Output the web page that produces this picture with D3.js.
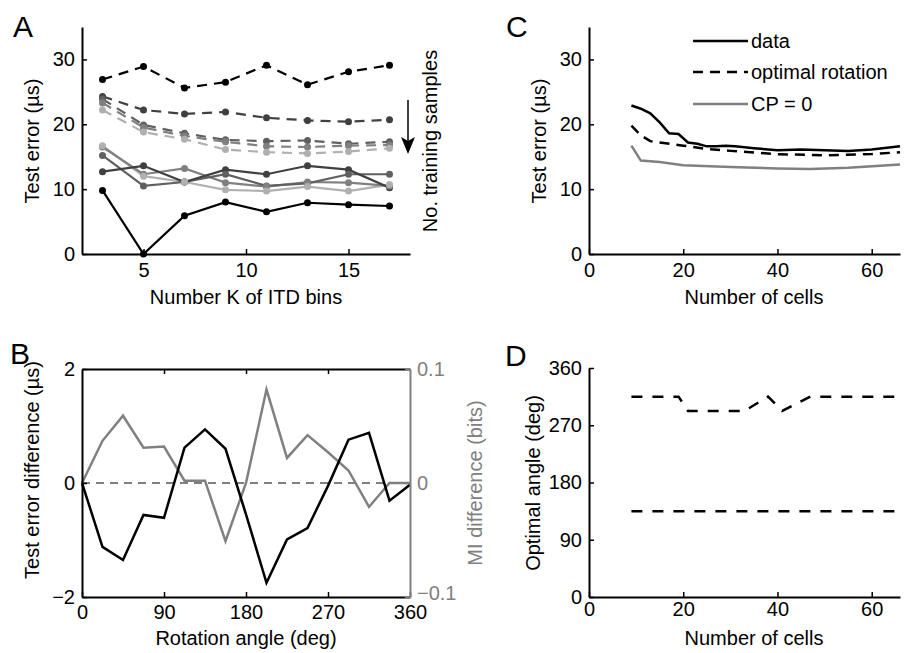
<!DOCTYPE html>
<html>
<head>
<meta charset="utf-8">
<script src="https://cdn.jsdelivr.net/npm/d3@7"></script>
<style>
  body { margin: 0; background: #fff; }
  svg text { font-family: 'Liberation Sans', Arial, Helvetica, sans-serif; }
</style>
</head>
<body>
<div id="fig"></div>
<script>
// ---- data ----
// panel A: number of ITD bins
const binsK = [3, 5, 7, 9, 11, 13, 15, 17];
const shadesA = ["#000000", "#404040", "#606060", "#808080", "#b0b0b0"];
const dashedA = [
  [26.9, 28.9, 25.6, 26.5, 29.1, 26.1, 28.1, 29.1],
  [24.3, 22.2, 21.6, 21.9, 21.0, 20.6, 20.4, 20.7],
  [23.9, 19.9, 18.6, 17.6, 17.4, 17.5, 17.0, 17.3],
  [23.3, 19.5, 18.2, 17.3, 16.6, 16.5, 16.7, 16.8],
  [22.2, 18.8, 17.7, 16.1, 15.7, 15.5, 15.8, 16.3]
];
const solidA = [
  [9.8, 0.0, 5.9, 8.0, 6.5, 7.9, 7.6, 7.4],
  [12.7, 13.6, 11.1, 13.0, 12.3, 13.6, 13.0, 10.2],
  [15.2, 10.5, 11.1, 12.3, 10.5, 10.9, 12.3, 12.3],
  [16.5, 12.3, 13.2, 11.0, 10.4, 11.1, 11.0, 10.5],
  [16.7, 12.0, 11.1, 9.9, 9.7, 10.4, 9.7, 10.7]
];

// panel B: rotation angle
const angles = [0, 22.5, 45, 67.5, 90, 112.5, 135, 157.5, 180, 202.5, 225, 247.5, 270, 292.5, 315, 337.5, 360];
const errDiff = [0, -1.12, -1.35, -0.56, -0.61, 0.62, 0.94, 0.6, -0.55, -1.75, -0.99, -0.79, -0.05, 0.76, 0.88, -0.31, -0.03];
const miDiff = [0, 0.037, 0.059, 0.031, 0.032, 0.002, 0.002, -0.051, 0.0, 0.082, 0.022, 0.042, 0.027, 0.011, -0.021, 0.0, 0.0];

// panel C: number of cells
const cellsData = [9, 11, 13, 15, 17, 19, 21, 23, 25, 27, 29, 31, 35, 40, 45, 50, 55, 60, 66];
const errData = [22.9, 22.4, 21.7, 20.3, 18.6, 18.5, 17.2, 17.0, 16.6, 16.6, 16.7, 16.6, 16.3, 16.0, 16.1, 16.0, 15.9, 16.1, 16.6];
const cellsRot = [9, 11, 13, 15, 20, 25, 30, 40, 50, 60, 66];
const errRot = [19.8, 18.3, 17.4, 17.2, 16.7, 16.2, 15.9, 15.4, 15.2, 15.4, 15.7];
const cellsCP = [9, 11, 15, 20, 30, 40, 47, 55, 66];
const errCP = [16.7, 14.4, 14.2, 13.7, 13.4, 13.2, 13.1, 13.3, 13.8];
const legendC = ["data", "optimal rotation", "CP = 0"];

// panel D: optimal angle
const cellsOptHi = [9, 19, 21, 33, 38, 41, 47, 66];
const angleOptHi = [315, 315, 292.5, 292.5, 315, 292.5, 315, 315];
const cellsOptLo = [9, 66];
const angleOptLo = [135, 135];

// ---- drawing ----
const svg = d3.select("#fig").append("svg")
  .attr("width", 910)
  .attr("height", 653);

const FS = 20;
const gray = "#808080";

function styleAxis(g, color) {
  g.select(".domain").attr("stroke", color || "#000").attr("stroke-width", 2);
  g.selectAll(".tick line").attr("stroke", color || "#000").attr("stroke-width", 1.5);
  g.selectAll(".tick text").attr("font-size", FS).attr("fill", color || "#000")
    .style("font-family", "'Liberation Sans', Arial, sans-serif");
}

function panelLetter(txt, x, y) {
  svg.append("text").attr("x", x).attr("y", y).attr("font-size", 30).text(txt);
}

function ylabel(txt, x, y, color) {
  svg.append("text")
    .attr("transform", `translate(${x},${y}) rotate(-90)`)
    .attr("text-anchor", "middle")
    .attr("font-size", FS)
    .attr("fill", color || "#000")
    .text(txt);
}

function xlabel(txt, x, y) {
  svg.append("text").attr("x", x).attr("y", y)
    .attr("text-anchor", "middle").attr("font-size", FS).text(txt);
}

// ===== Panel A =====
const xA = d3.scaleLinear().domain([2, 18]).range([82, 410]);
const yA = d3.scaleLinear().domain([0, 35]).range([254, 27]);
const lineA = d3.line().x((d, i) => xA(binsK[i])).y(d => yA(d));

const gA = svg.append("g");
dashedA.forEach((s, k) => {
  gA.append("path").datum(s).attr("d", lineA)
    .attr("fill", "none").attr("stroke", shadesA[k]).attr("stroke-width", 2.2)
    .attr("stroke-dasharray", "10,7");
});
solidA.slice().reverse().forEach((s, j) => {
  const k = solidA.length - 1 - j;
  gA.append("path").datum(s).attr("d", lineA)
    .attr("fill", "none").attr("stroke", shadesA[k]).attr("stroke-width", 2.2);
});
[...dashedA, ...solidA].forEach((s, n) => {
  gA.selectAll(null).data(s).enter().append("circle")
    .attr("cx", (d, i) => xA(binsK[i]))
    .attr("cy", d => yA(d))
    .attr("r", 3.5)
    .attr("fill", shadesA[n % 5]);
});

svg.append("g").attr("transform", "translate(0,254)")
  .call(d3.axisBottom(xA).tickValues([5, 10, 15]).tickSizeInner(-5).tickSizeOuter(0).tickPadding(9))
  .call(g => styleAxis(g));
svg.append("g").attr("transform", "translate(82,0)")
  .call(d3.axisLeft(yA).tickValues([0, 10, 20, 30]).tickSizeInner(-5).tickSizeOuter(0).tickPadding(7))
  .call(g => styleAxis(g));

// arrow for number of training samples
svg.append("line").attr("x1", 408).attr("x2", 408).attr("y1", 100).attr("y2", 145)
  .attr("stroke", "#000").attr("stroke-width", 1.5);
svg.append("path").attr("d", "M401,137 L408,154 L415,137 L408,141 Z").attr("fill", "#000");
ylabel("No. training samples", 437, 141);

panelLetter("A", 13, 37);
ylabel("Test error (\u00b5s)", 39, 141);
xlabel("Number K of ITD bins", 246, 304);

// ===== Panel B =====
const xB = d3.scaleLinear().domain([0, 360]).range([82, 410]);
const yB = d3.scaleLinear().domain([-2, 2]).range([597, 369]);
const yB2 = d3.scaleLinear().domain([-0.1, 0.1]).range([597, 369]);

svg.append("line").attr("x1", xB(0)).attr("x2", xB(360)).attr("y1", yB(0)).attr("y2", yB(0))
  .attr("stroke", "#000").attr("stroke-width", 1).attr("stroke-dasharray", "8,6");

svg.append("path").datum(miDiff)
  .attr("d", d3.line().x((d, i) => xB(angles[i])).y(d => yB2(d)))
  .attr("fill", "none").attr("stroke", gray).attr("stroke-width", 2.5);
svg.append("path").datum(errDiff)
  .attr("d", d3.line().x((d, i) => xB(angles[i])).y(d => yB(d)))
  .attr("fill", "none").attr("stroke", "#000").attr("stroke-width", 2.5);

svg.append("g").attr("transform", "translate(0,369)")
  .call(d3.axisTop(xB).tickValues([90, 180, 270]).tickFormat("").tickSizeInner(-5).tickSizeOuter(0))
  .call(g => styleAxis(g));
svg.append("g").attr("transform", "translate(0,597)")
  .call(d3.axisBottom(xB).tickValues([0, 90, 180, 270, 360]).tickSizeInner(-5).tickSizeOuter(0).tickPadding(8))
  .call(g => styleAxis(g));
svg.append("g").attr("transform", "translate(82,0)")
  .call(d3.axisLeft(yB).tickValues([-2, 0, 2]).tickFormat(d3.format("d")).tickSizeInner(-5).tickSizeOuter(0).tickPadding(7))
  .call(g => styleAxis(g));
svg.append("g").attr("transform", "translate(410,0)")
  .call(d3.axisRight(yB2).tickValues([-0.1, 0, 0.1]).tickFormat(d3.format(".1~f")).tickSizeInner(-5).tickSizeOuter(0).tickPadding(7))
  .call(g => styleAxis(g, gray))
  .call(g => g.selectAll(".tick text").filter(d => d < 0).attr("dy", "0.1em"));

panelLetter("B", 10, 364);
ylabel("Test error difference (\u00b5s)", 39, 470);
ylabel("MI difference (bits)", 482, 483, gray);
xlabel("Rotation angle (deg)", 246, 645);

// ===== Panel C =====
const xC = d3.scaleLinear().domain([0, 66]).range([589, 900]);
const yC = d3.scaleLinear().domain([0, 35]).range([254, 27]);

const seriesC = [
  {x: cellsData, y: errData, color: "#000", dash: null},
  {x: cellsRot, y: errRot, color: "#000", dash: "10,7"},
  {x: cellsCP, y: errCP, color: gray, dash: null}
];
seriesC.slice().reverse().forEach(s => {
  svg.append("path").datum(s.y)
    .attr("d", d3.line().x((d, i) => xC(s.x[i])).y(d => yC(d)))
    .attr("fill", "none").attr("stroke", s.color).attr("stroke-width", 2.5)
    .attr("stroke-dasharray", s.dash);
});

svg.append("g").attr("transform", "translate(0,254)")
  .call(d3.axisBottom(xC).tickValues([0, 20, 40, 60]).tickSizeInner(-5).tickSizeOuter(0).tickPadding(9))
  .call(g => styleAxis(g));
svg.append("g").attr("transform", "translate(589,0)")
  .call(d3.axisLeft(yC).tickValues([0, 10, 20, 30]).tickSizeInner(-5).tickSizeOuter(0).tickPadding(7))
  .call(g => styleAxis(g));

const legY = [41, 72, 104];
seriesC.forEach((s, i) => {
  svg.append("line").attr("x1", 693).attr("x2", 748).attr("y1", legY[i]).attr("y2", legY[i])
    .attr("stroke", s.color).attr("stroke-width", 2.5).attr("stroke-dasharray", s.dash);
  svg.append("text").attr("x", 751).attr("y", legY[i] + 7).attr("font-size", FS).text(legendC[i]);
});

panelLetter("C", 506, 37);
ylabel("Test error (\u00b5s)", 546, 141);
xlabel("Number of cells", 754, 304);

// ===== Panel D =====
const xD = d3.scaleLinear().domain([0, 66]).range([589, 900]);
const yD = d3.scaleLinear().domain([0, 360]).range([597, 368]);

[[cellsOptHi, angleOptHi], [cellsOptLo, angleOptLo]].forEach(([xs, ys]) => {
  svg.append("path").datum(ys)
    .attr("d", d3.line().x((d, i) => xD(xs[i])).y(d => yD(d)))
    .attr("fill", "none").attr("stroke", "#000").attr("stroke-width", 2.5)
    .attr("stroke-dasharray", "11,10");
});

svg.append("g").attr("transform", "translate(0,597)")
  .call(d3.axisBottom(xD).tickValues([0, 20, 40, 60]).tickSizeInner(-5).tickSizeOuter(0).tickPadding(5))
  .call(g => styleAxis(g));
svg.append("g").attr("transform", "translate(589,0)")
  .call(d3.axisLeft(yD).tickValues([0, 90, 180, 270, 360]).tickSizeInner(-5).tickSizeOuter(0).tickPadding(7))
  .call(g => styleAxis(g));

panelLetter("D", 505, 366);
ylabel("Optimal angle (deg)", 540, 483);
xlabel("Number of cells", 754, 645);
</script>
</body>
</html>
